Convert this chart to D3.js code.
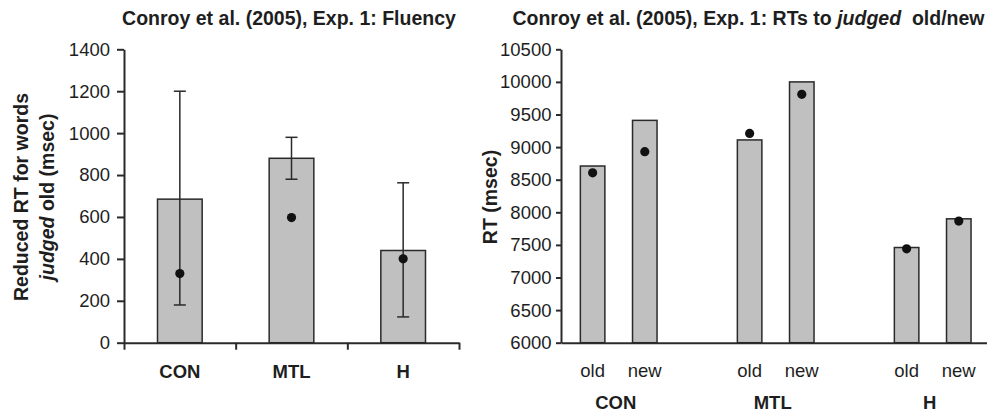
<!DOCTYPE html>
<html><head><meta charset="utf-8">
<script src="https://cdn.jsdelivr.net/npm/d3@7"></script>
<style>
html,body{margin:0;padding:0;background:#fff;}
svg{display:block;font-family:"Liberation Sans",Arial,Helvetica,sans-serif;}
</style></head>
<body><svg id="c" width="987" height="412"></svg>
<script>
// ---- Data: left panel (Fluency) ----
const fluencyCats = ["CON", "MTL", "H"];
const fluencyBars = [685, 880, 440];
const fluencyDots = [330, 597, 400];
const fluencyErrLow = [180, 780, 123];
const fluencyErrHigh = [1200, 980, 763];
const fluencyTicks = [0, 200, 400, 600, 800, 1000, 1200, 1400];

// ---- Data: right panel (RTs) ----
const rtGroups = ["CON", "MTL", "H"];
const rtJudgements = ["old", "new"];
const rtOldBars = [8710, 9110, 7460];
const rtNewBars = [9410, 10000, 7900];
const rtOldDots = [8605, 9210, 7440];
const rtNewDots = [8930, 9810, 7865];
const rtTicks = [6000, 6500, 7000, 7500, 8000, 8500, 9000, 9500, 10000, 10500];

const FONT = '"Liberation Sans",Arial,Helvetica,sans-serif';
const TXT = "#1e1e1e", AX = "#2a2a2a", BAR = "#c0c0c0";
const svg = d3.select("#c");

function styleAxis(a) {
  a.attr("font-family", FONT).attr("font-size", 18.5);
  a.select(".domain").attr("stroke", AX).attr("stroke-width", 2);
  a.selectAll(".tick line").attr("stroke", AX).attr("stroke-width", 2);
  a.selectAll(".tick text").attr("fill", TXT);
}

// ================= LEFT PANEL =================
{
  const x0 = 124, x1 = 459, yTop = 49.3, yBot = 342.7;
  const y = d3.scaleLinear().domain([0, 1400]).range([yBot, yTop]);
  const x = d3.scaleBand().domain(fluencyCats).range([x0, x1]).paddingInner(0.6).paddingOuter(0.3);
  const g = svg.append("g");

  g.selectAll("rect.bar").data(fluencyCats).join("rect")
    .attr("x", d => x(d)).attr("width", x.bandwidth())
    .attr("y", (d, i) => y(fluencyBars[i]))
    .attr("height", (d, i) => y(0) - y(fluencyBars[i]))
    .attr("fill", BAR).attr("stroke", AX).attr("stroke-width", 1.5);

  const cx = d => x(d) + x.bandwidth() / 2;
  const eg = g.selectAll("g.err").data(fluencyCats).join("g");
  eg.append("line").attr("x1", cx).attr("x2", cx)
    .attr("y1", (d, i) => y(fluencyErrLow[i])).attr("y2", (d, i) => y(fluencyErrHigh[i]))
    .attr("stroke", AX).attr("stroke-width", 1.5);
  eg.append("line").attr("x1", d => cx(d) - 6).attr("x2", d => cx(d) + 6)
    .attr("y1", (d, i) => y(fluencyErrLow[i])).attr("y2", (d, i) => y(fluencyErrLow[i]))
    .attr("stroke", AX).attr("stroke-width", 1.5);
  eg.append("line").attr("x1", d => cx(d) - 6).attr("x2", d => cx(d) + 6)
    .attr("y1", (d, i) => y(fluencyErrHigh[i])).attr("y2", (d, i) => y(fluencyErrHigh[i]))
    .attr("stroke", AX).attr("stroke-width", 1.5);

  g.selectAll("circle").data(fluencyCats).join("circle")
    .attr("cx", cx).attr("cy", (d, i) => y(fluencyDots[i])).attr("r", 4.6).attr("fill", "#111");

  const ya = g.append("g").attr("transform", `translate(${x0},0)`)
    .call(d3.axisLeft(y).tickValues(fluencyTicks).tickFormat(d3.format("d")).tickSize(7).tickPadding(7).tickSizeOuter(0));
  styleAxis(ya);

  const xb = d3.scaleLinear().domain([0, fluencyCats.length]).range([x0, x1]);
  const xa = g.append("g").attr("transform", `translate(0,${yBot})`)
    .call(d3.axisBottom(xb).tickValues(d3.range(fluencyCats.length + 1)).tickSize(7).tickSizeOuter(0).tickFormat(""));
  styleAxis(xa);

  g.selectAll("text.cat").data(fluencyCats).join("text")
    .attr("x", cx).attr("y", 378).attr("text-anchor", "middle")
    .attr("font-weight", "bold").attr("font-size", 18.5).attr("fill", TXT).text(d => d);

  g.append("text").attr("x", 289).attr("y", 25).attr("text-anchor", "middle")
    .attr("font-weight", "bold").attr("font-size", 19.5).attr("fill", TXT)
    .text("Conroy et al. (2005), Exp. 1: Fluency");

  const yl = g.append("text").attr("transform", "translate(0,197) rotate(-90)")
    .attr("text-anchor", "middle").attr("font-weight", "bold").attr("font-size", 19.5).attr("fill", TXT);
  yl.append("tspan").attr("x", 0).attr("y", 27.5).text("Reduced RT for words");
  const l2 = yl.append("tspan").attr("x", 0).attr("y", 54);
  l2.append("tspan").attr("font-style", "italic").text("judged");
  l2.append("tspan").text(" old (msec)");
}

// ================= RIGHT PANEL =================
{
  const x0 = 561, xEnd = 987, yTop = 49.3, yBot = 342.7;
  const y = d3.scaleLinear().domain([6000, 10500]).range([yBot, yTop]);
  const xg = d3.scaleBand().domain(rtGroups).range([540.2, 1011.2]).padding(0);
  const xi = d3.scaleBand().domain(rtJudgements).range([0, xg.bandwidth()]).paddingInner(0.53).paddingOuter(0.77);
  const g = svg.append("g");

  const rows = [];
  rtGroups.forEach((grp, i) => {
    rows.push({grp, j: "old", bar: rtOldBars[i], dot: rtOldDots[i]});
    rows.push({grp, j: "new", bar: rtNewBars[i], dot: rtNewDots[i]});
  });
  const bx = d => xg(d.grp) + xi(d.j);
  const bc = d => bx(d) + xi.bandwidth() / 2;

  g.selectAll("rect.bar").data(rows).join("rect")
    .attr("x", bx).attr("width", xi.bandwidth())
    .attr("y", d => y(d.bar)).attr("height", d => y(6000) - y(d.bar))
    .attr("fill", BAR).attr("stroke", AX).attr("stroke-width", 1.5);

  g.selectAll("circle").data(rows).join("circle")
    .attr("cx", bc).attr("cy", d => y(d.dot)).attr("r", 4.6).attr("fill", "#111");

  const ya = g.append("g").attr("transform", `translate(${x0},0)`)
    .call(d3.axisLeft(y).tickValues(rtTicks).tickFormat(d3.format("d")).tickSize(5).tickPadding(4.5).tickSizeOuter(0));
  styleAxis(ya);

  const xl = d3.scaleLinear().domain([0, 1]).range([x0, xEnd]);
  const xa = g.append("g").attr("transform", `translate(0,${yBot})`)
    .call(d3.axisBottom(xl).tickValues([]).tickSizeOuter(0));
  styleAxis(xa);

  g.selectAll("text.sub").data(rows).join("text")
    .attr("x", bc).attr("y", 377).attr("text-anchor", "middle")
    .attr("font-size", 18.5).attr("fill", TXT).text(d => d.j);

  g.selectAll("text.grp").data(rtGroups).join("text")
    .attr("x", d => xg(d) + xg.bandwidth() / 2 - 3).attr("y", 409).attr("text-anchor", "middle")
    .attr("font-weight", "bold").attr("font-size", 18.5).attr("fill", TXT).text(d => d);

  const t = g.append("text").attr("x", 748.5).attr("y", 25).attr("text-anchor", "middle")
    .attr("font-weight", "bold").attr("font-size", 19.5).attr("fill", TXT);
  t.append("tspan").text("Conroy et al. (2005), Exp. 1: RTs to ");
  t.append("tspan").attr("font-style", "italic").text("judged");
  t.append("tspan").text("  old/new").attr("xml:space", "preserve");

  g.append("text").attr("transform", "translate(497,197) rotate(-90)")
    .attr("text-anchor", "middle").attr("font-weight", "bold").attr("font-size", 19.5).attr("fill", TXT)
    .text("RT (msec)");
}
</script>
</body></html>
